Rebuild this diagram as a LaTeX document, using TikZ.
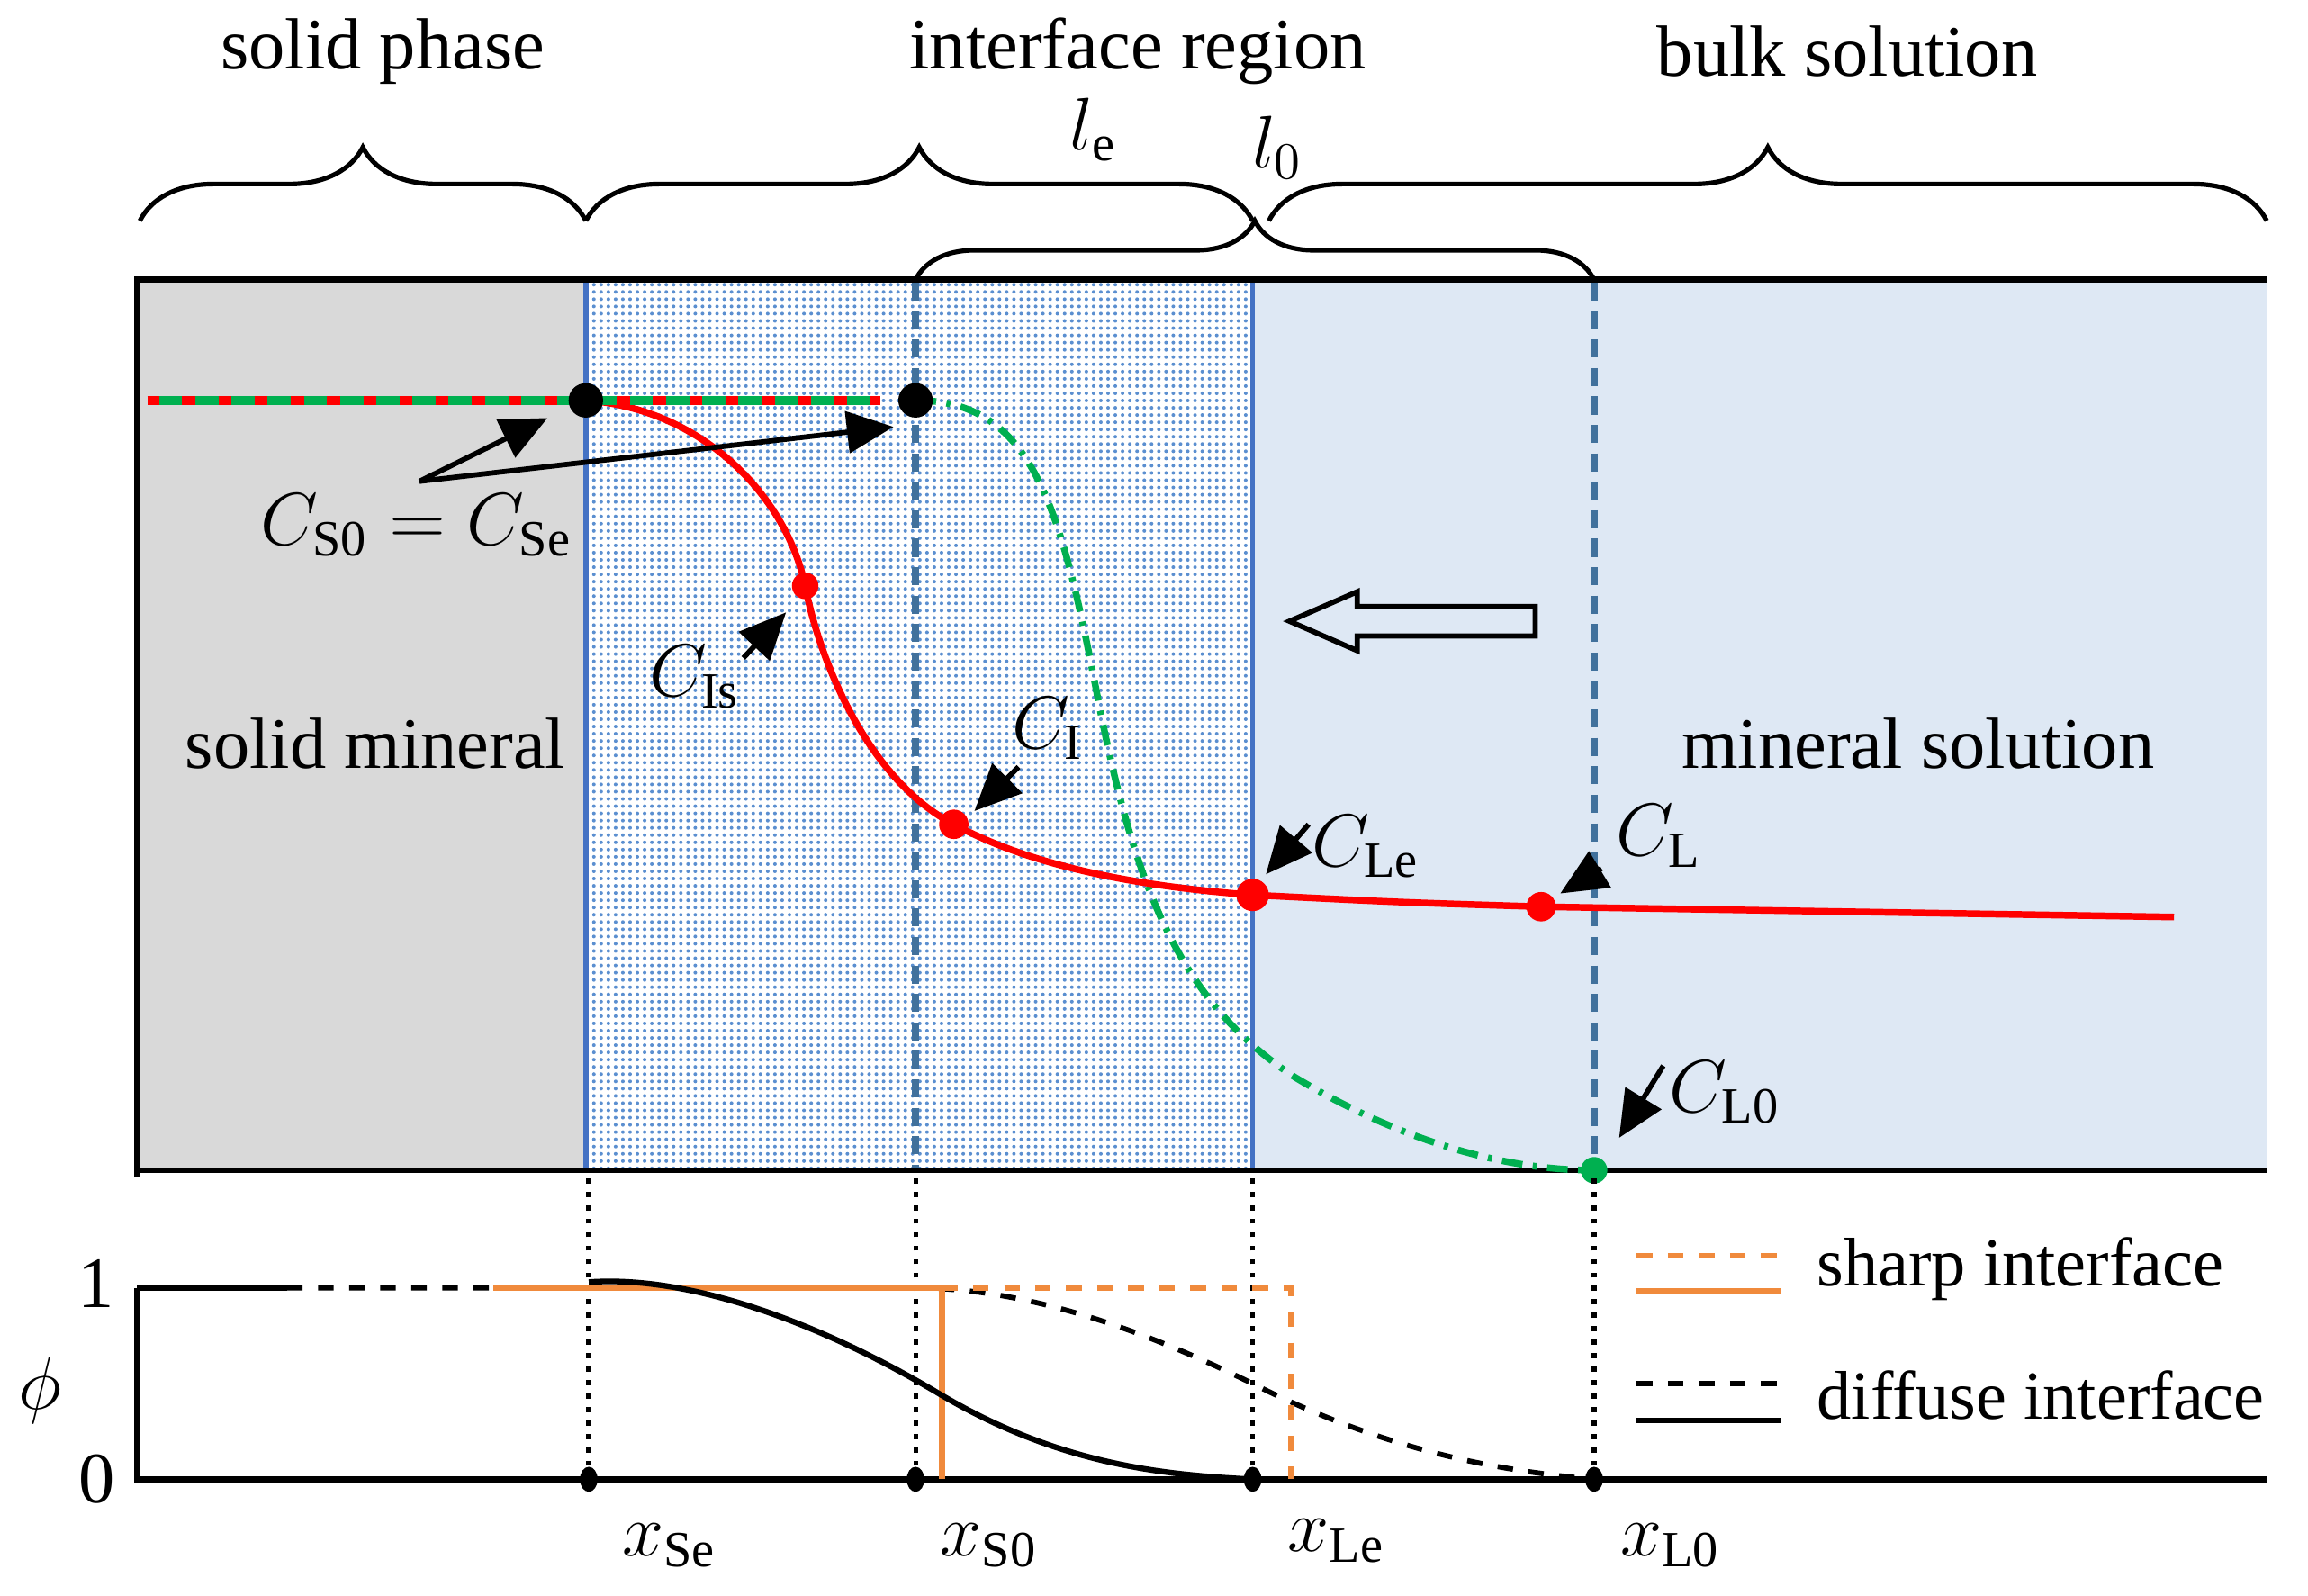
\documentclass[tikz,border=0pt]{standalone}
\usepackage{fontspec}
\setmainfont{Liberation Serif}
\usetikzlibrary{arrows.meta,decorations.pathreplacing,patterns,shapes.geometric}

\definecolor{solidgray}{HTML}{D9D9D9}
\definecolor{bulkblue}{HTML}{DEE8F4}
\definecolor{wallblue}{HTML}{4472C4}
\definecolor{dashblue}{HTML}{41719C}
\definecolor{dotblue}{HTML}{5B8FD0}
\definecolor{cred}{HTML}{FF0000}
\definecolor{cgreen}{HTML}{00B050}
\definecolor{corange}{HTML}{F08A3C}

\pgfdeclarepatternformonly{finedots}{\pgfqpoint{-0.5pt}{-0.5pt}}{\pgfqpoint{0.5pt}{0.5pt}}{\pgfqpoint{1.4pt}{1.4pt}}{%
  \pgfpathcircle{\pgfqpoint{0pt}{0pt}}{0.35pt}\pgfusepath{fill}}

\tikzset{
  ptr/.style={-{Triangle[length=9pt,width=8pt]}, line width=1pt},
  brc/.style={decorate, decoration={brace, amplitude=#1}, line width=0.9pt},
  wall/.style={wallblue, line width=1pt},
  walldash/.style={dashblue, line width=1.3pt, dash pattern=on 3.5pt off 2pt},
  guide/.style={line width=0.9pt, dash pattern=on 1pt off 1.6pt},
  adot/.style={ellipse, fill=black, inner sep=0pt, minimum width=1.2mm, minimum height=1.7mm}
}

\begin{document}
\begin{tikzpicture}[x=0.1mm, y=-0.1mm, font=\fontsize{14}{16}\selectfont]
    \useasboundingbox (0,0) rectangle (1568,1084);

    % regions
    \fill[solidgray] (93,190) rectangle (398,795);
    \fill[pattern=finedots, pattern color=dotblue] (398,190) rectangle (851,795);
    \draw[wall] (398,190) rectangle (851,795);
    \fill[bulkblue] (851,190) rectangle (1540,795);
    \draw[wall] (851,190) -- (851,795);
    \draw[walldash] (622,192) -- (622,795);
    \draw[walldash] (1083,192) -- (1083,795);
    \draw[line width=1.2pt] (93,800) -- (93,190) -- (1540,190);
    \draw[line width=1.2pt] (93,795) -- (1540,795);

    % braces
    \draw[brc=5mm] (95,150) -- (398,150);
    \draw[brc=5mm] (398,150) -- (851,150);
    \draw[brc=5mm] (862,150) -- (1540,150);
    \draw[brc=4mm] (622,190) -- (1083,190);
    \node (tSolid) at (260,35) {solid phase};
    \node (tIface) at (773,35) {interface region};
    \node (tBulk) at (1255,35) {bulk solution};
    \node (tLe) at (743,88) {$l_{\mathrm{e}}$};
    \node (tLz) at (868,100) {$l_{0}$};

    % concentration profiles
    \coordinate (pSe) at (398,272);
    \coordinate (pSz) at (622,272);
    \coordinate (pIs) at (547,398);
    \coordinate (pI) at (648,560);
    \coordinate (pLe) at (851,608);
    \coordinate (pL) at (1047,616);
    \coordinate (pLz) at (1083,795);
    \draw[cgreen, line width=1.3pt, dash pattern=on 4pt off 2pt on 0.8pt off 2pt]
        (pSz) .. controls (700,272) and (720,340) .. (745,470)
        .. controls (770,600) and (800,680) .. (880,732)
        .. controls (960,780) and (1030,795) .. (pLz);
    \draw[cred, line width=1.3pt] (pSe) .. controls (480,278) and (535,340) .. (pIs)
        .. controls (557,450) and (590,530) .. (pI)
        .. controls (700,588) and (770,602) .. (pLe)
        .. controls (950,613) .. (pL) -- (1477,623);
    \draw[cred, line width=1.7pt] (100,272) -- (598,272);
    \draw[cgreen, line width=1.7pt, dash pattern=on 4.5pt off 2.5pt] (108,272) -- (598,272);
    \filldraw[black] (pSe) circle(1.1mm);
    \filldraw[black] (pSz) circle(1.1mm);
    \fill[cred] (pIs) circle(0.9mm);
    \fill[cred] (pI) circle(1mm);
    \fill[cred] (pLe) circle(1.1mm);
    \fill[cred] (pL) circle(1mm);
    \fill[cgreen] (pLz) circle(0.9mm);

    % labels and pointers
    \node (lS) at (283,357) {$C_{\mathrm{S0}} = C_{\mathrm{Se}}$};
    \node (lIs) at (472,460) {$C_{\mathrm{Is}}$};
    \node (lI) at (712,495) {$C_{\mathrm{I}}$};
    \node (lLe) at (928,575) {$C_{\mathrm{Le}}$};
    \node (lL) at (1127,568) {$C_{\mathrm{L}}$};
    \node (lLz) at (1172,742) {$C_{\mathrm{L0}}$};
    \coordinate (aS) at (285,327);
    \coordinate (tSe) at (372,284);
    \coordinate (tSz) at (607,290);
    \draw[ptr] (aS) -- (tSe);
    \draw[ptr] (aS) -- (tSz);
    \coordinate (aIs) at (505,447);
    \coordinate (tIs) at (534,416);
    \draw[ptr] (aIs) -- (tIs);
    \coordinate (aI) at (692,521);
    \coordinate (tI) at (662,551);
    \draw[ptr] (aI) -- (tI);
    \coordinate (aLe) at (889,560);
    \coordinate (tLe2) at (860,594);
    \draw[ptr] (aLe) -- (tLe2);
    \coordinate (aL) at (1088,590);
    \coordinate (tL) at (1060,607);
    \draw[ptr] (aL) -- (tL);
    \coordinate (aLz) at (1130,724);
    \coordinate (tLz2) at (1100,773);
    \draw[ptr] (aLz) -- (tLz2);

    \draw[line width=1pt] (876,422) -- (922,402) -- (922,412) -- (1043,412)
        -- (1043,432) -- (922,432) -- (922,442) -- cycle;
    \node (tMin) at (255,505) {solid mineral};
    \node (tSol) at (1303,505) {mineral solution};

    % phase field
    \node[adot] (xSe) at (400,1005) {};
    \node[adot] (xSz) at (622,1005) {};
    \node[adot] (xLe) at (851,1005) {};
    \node[adot] (xLz) at (1083,1005) {};
    \draw[guide] (xSe.center) -- (xSe.center |- 0,797);
    \draw[guide] (xSz.center) -- (xSz.center |- 0,797);
    \draw[guide] (xLe.center) -- (xLe.center |- 0,797);
    \draw[guide] (xLz.center) -- (xLz.center |- 0,797);
    \draw[line width=1.1pt] (93,875) -- (93,1005) -- (1540,1005);
    \draw[line width=1.1pt] (93,875) -- (195,875);
    \draw[line width=1pt, dashed] (195,875) -- (622,875)
        .. controls (700,875) and (780,905) .. (851,940)
        .. controls (950,990) and (1030,1000) .. (xLz.center);
    \draw[corange, line width=1.1pt] (335,875) -- (640,875) -- (640,1005);
    \draw[corange, line width=1.1pt, dashed] (640,875) -- (877,875) -- (877,1005);
    \draw[line width=1.1pt] (400,871) .. controls (470,866) and (560,900) .. (640,948)
        .. controls (720,995) and (790,1002) .. (xLe.center);
    \node (vOne) at (65,872) {1};
    \node (vZero) at (66,1005) {0};
    \node (vPhi) at (27,945) {$\phi$};
    \node (lxSe) at (455,1050) {$x_{\mathrm{Se}}$};
    \node (lxSz) at (672,1050) {$x_{\mathrm{S0}}$};
    \node (lxLe) at (908,1047) {$x_{\mathrm{Le}}$};
    \node (lxLz) at (1135,1050) {$x_{\mathrm{L0}}$};

    % legend
    \draw[corange, line width=1.1pt, dashed] (1112,853) -- (1210,853);
    \draw[corange, line width=1.1pt] (1112,877) -- (1210,877);
    \draw[line width=1.1pt, dashed] (1112,940) -- (1210,940);
    \draw[line width=1.1pt] (1112,965) -- (1210,965);
    \node[anchor=west, font=\fontsize{13.3}{16}\selectfont] (gSharp) at (1222,862) {sharp interface};
    \node[anchor=west, font=\fontsize{13.3}{16}\selectfont] (gDiff) at (1222,948) {diffuse interface};
\end{tikzpicture}
\end{document}
